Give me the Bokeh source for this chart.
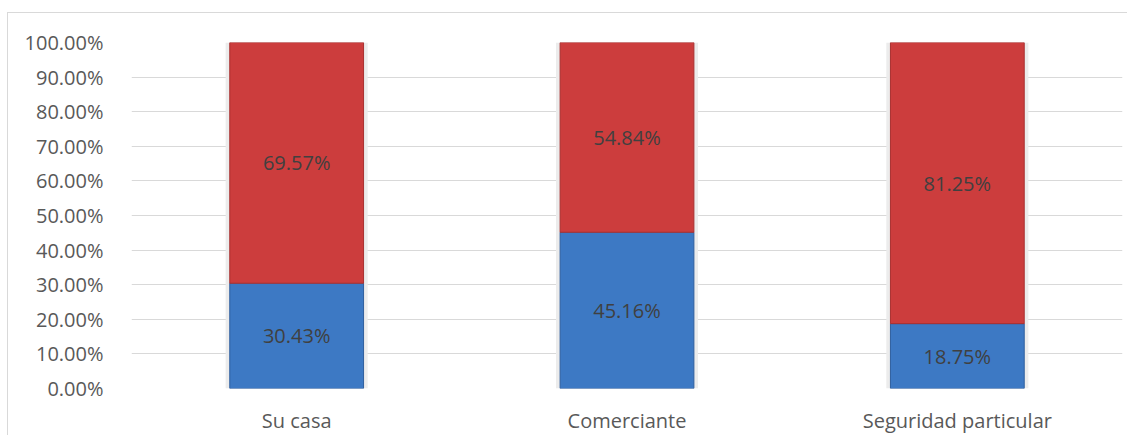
from bokeh.plotting import figure
from bokeh.models import ColumnDataSource, NumeralTickFormatter, FixedTicker, Range1d, LabelSet
from bokeh.core.properties import value
from bokeh.embed import file_html
from bokeh.resources import INLINE

categories = ["Su casa", "Comerciante", "Seguridad particular"]
blue_vals = [0.3043, 0.4516, 0.1875]
red_vals = [0.6957, 0.5484, 0.8125]
y_ticks = [0.0, 0.1, 0.2, 0.3, 0.4, 0.5, 0.6, 0.7, 0.8, 0.9, 1.0]

FONT = "Open Sans"

blue_mid = [b / 2 for b in blue_vals]
red_mid = [b + r / 2 for b, r in zip(blue_vals, red_vals)]
src = ColumnDataSource(dict(
    cat=categories, blue=blue_vals, red=red_vals,
    total=[b + r for b, r in zip(blue_vals, red_vals)],
    blue_mid=blue_mid, red_mid=red_mid,
    blue_lbl=["%.2f%%" % (v * 100) for v in blue_vals],
    red_lbl=["%.2f%%" % (v * 100) for v in red_vals],
))

p = figure(x_range=categories, y_range=Range1d(0, 1.0), width=1120, height=423,
           output_backend="svg", toolbar_location=None,
           min_border_left=123, min_border_right=6, min_border_top=29, min_border_bottom=48)
p.styles = {"border-left": "1px solid #d9d9d9", "border-top": "1px solid #d9d9d9",
            "margin-left": "7px", "margin-top": "12px"}

# shadow
p.vbar(x="cat", bottom=0, top="total", width=0.43, source=src,
       fill_color="#ececec", line_color=None)
p.vbar(x="cat", bottom=0, top="blue", width=0.405, source=src,
       fill_color="#3D79C4", line_color="#2F5F9E", line_width=1)
p.vbar(x="cat", bottom="blue", top="total", width=0.405, source=src,
       fill_color="#CC3D3D", line_color="#A83030", line_width=1)

for ycol, lcol in (("blue_mid", "blue_lbl"), ("red_mid", "red_lbl")):
    p.add_layout(LabelSet(x="cat", y=ycol, text=lcol, source=src,
                          text_align="center", text_baseline="middle",
                          text_font=value(FONT), text_font_size="20px",
                          text_color="#404040"))

p.yaxis.ticker = FixedTicker(ticks=y_ticks)
p.yaxis.formatter = NumeralTickFormatter(format="0.00%")
for ax in (p.xaxis, p.yaxis):
    ax.axis_line_color = None
    ax.major_tick_line_color = None
    ax.minor_tick_line_color = None
    ax.major_label_text_font = FONT
    ax.major_label_text_font_size = "20px"
    ax.major_label_text_color = "#595959"
p.yaxis.major_label_standoff = 22
p.xaxis.major_label_standoff = 12

p.xgrid.grid_line_color = None
p.ygrid.grid_line_color = "#d9d9d9"
p.ygrid.grid_line_width = 1
p.outline_line_color = None
p.background_fill_color = "white"
p.border_fill_color = "white"

open("out.html", "w").write(file_html(p, INLINE))
